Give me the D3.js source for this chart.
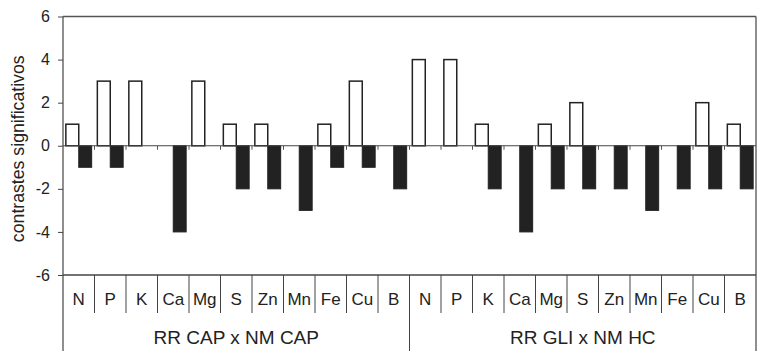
<!DOCTYPE html>
<html>
<head>
<meta charset="utf-8">
<script src="https://cdn.jsdelivr.net/npm/d3@7"></script>
<style>
  body { margin: 0; background: #fff; }
  text { font-family: "Liberation Sans", Arial, sans-serif; fill: #222; }
</style>
</head>
<body>
<div id="chart"></div>
<script>
var groups = ['RR CAP x NM CAP', 'RR GLI x NM HC'];
var nutrients = ['N', 'P', 'K', 'Ca', 'Mg', 'S', 'Zn', 'Mn', 'Fe', 'Cu', 'B'];
// positive / negative contrasts for each group
var posCAP = [1, 3, 3, 0, 3, 1, 1, 0, 1, 3, 0];
var negCAP = [-1, -1, 0, -4, 0, -2, -2, -3, -1, -1, -2];
var posGLI = [4, 4, 1, 0, 1, 2, 0, 0, 0, 2, 1];
var negGLI = [0, 0, -2, -4, -2, -2, -2, -3, -2, -2, -2];
var yTicks = [-6, -4, -2, 0, 2, 4, 6];

var width = 765, height = 351;
var plotLeft = 63, plotRight = 756, plotTop = 16.5, plotBottom = 275;

var cats = [];
groups.forEach(function(g, gi) {
  nutrients.forEach(function(n, i) {
    cats.push({
      key: gi + '-' + n, name: n, group: gi,
      pos: gi == 0 ? posCAP[i] : posGLI[i],
      neg: gi == 0 ? negCAP[i] : negGLI[i]
    });
  });
});

var svg = d3.select('#chart').append('svg').attr('width', width).attr('height', height);

var x = d3.scaleBand().domain(cats.map(d => d.key)).range([plotLeft, plotRight]);
var x1 = d3.scaleBand().domain(['pos', 'neg']).range([0, x.bandwidth()]).paddingOuter(0.22);
var y = d3.scaleLinear().domain([-6, 6]).range([plotBottom, plotTop]);

// frame: top and right
svg.append('line').attr('x1', plotLeft).attr('x2', plotRight).attr('y1', y(6)).attr('y2', y(6))
  .attr('stroke', '#555').attr('stroke-width', 1.3);
svg.append('line').attr('x1', plotRight).attr('x2', plotRight).attr('y1', y(6)).attr('y2', height)
  .attr('stroke', '#444').attr('stroke-width', 1.2);

// y axis
var yAxis = svg.append('g').attr('transform', 'translate(' + plotLeft + ',0)')
  .call(d3.axisLeft(y).tickValues(yTicks).tickSize(5).tickPadding(8).tickFormat(d => String(d)));
yAxis.select('.domain').remove();
yAxis.selectAll('line').attr('stroke', '#444');
yAxis.selectAll('text').style('font-size', '16px').style('font-family', '"Liberation Sans", Arial, sans-serif').attr('fill', '#222');
svg.append('line').attr('x1', plotLeft).attr('x2', plotLeft).attr('y1', y(6)).attr('y2', height)
  .attr('stroke', '#444').attr('stroke-width', 1.2);

svg.append('text')
  .attr('transform', 'translate(19,' + (y(0) + 3) + ') rotate(-90)')
  .attr('text-anchor', 'middle').attr('dominant-baseline', 'middle')
  .style('font-size', '17.7px')
  .text('contrastes significativos');

// bars
var bars = svg.append('g');
bars.selectAll('rect.pos').data(cats.filter(d => d.pos != 0)).enter().append('rect')
  .attr('class', 'pos')
  .attr('x', d => x(d.key) + x1('pos'))
  .attr('width', x1.bandwidth())
  .attr('y', d => y(d.pos))
  .attr('height', d => y(0) - y(d.pos))
  .attr('fill', '#fff').attr('stroke', '#222').attr('stroke-width', 1.5);
bars.selectAll('rect.neg').data(cats.filter(d => d.neg != 0)).enter().append('rect')
  .attr('class', 'neg')
  .attr('x', d => x(d.key) + x1('neg'))
  .attr('width', x1.bandwidth())
  .attr('y', y(0))
  .attr('height', d => y(d.neg) - y(0))
  .attr('fill', '#222').attr('stroke', '#222').attr('stroke-width', 1);

// zero line with small ticks
svg.append('line').attr('x1', plotLeft).attr('x2', plotRight).attr('y1', y(0)).attr('y2', y(0))
  .attr('stroke', '#444').attr('stroke-width', 1.2);
svg.selectAll('line.zt').data(cats.slice(1)).enter().append('line')
  .attr('class', 'zt')
  .attr('x1', d => x(d.key)).attr('x2', d => x(d.key))
  .attr('y1', y(0)).attr('y2', y(0) + 4)
  .attr('stroke', '#555').attr('stroke-width', 1);

// bottom axis line
svg.append('line').attr('x1', plotLeft).attr('x2', plotRight).attr('y1', plotBottom).attr('y2', plotBottom)
  .attr('stroke', '#444').attr('stroke-width', 1.3);

// category separators and labels
svg.selectAll('line.sep').data(cats.slice(1)).enter().append('line')
  .attr('class', 'sep')
  .attr('x1', d => x(d.key)).attr('x2', d => x(d.key))
  .attr('y1', plotBottom).attr('y2', d => d.name == 'N' ? height : 313)
  .attr('stroke', '#444').attr('stroke-width', 1);
svg.selectAll('text.cat').data(cats).enter().append('text')
  .attr('class', 'cat')
  .attr('x', d => x(d.key) + x.bandwidth() / 2)
  .attr('y', 300.5)
  .attr('text-anchor', 'middle').attr('dominant-baseline', 'middle')
  .style('font-size', '17px')
  .text(d => d.name);

// group labels
var gw = (plotRight - plotLeft) / groups.length;
svg.selectAll('text.grp').data(groups).enter().append('text')
  .attr('class', 'grp')
  .attr('x', (d, i) => plotLeft + gw * i + gw / 2)
  .attr('y', 338.5)
  .attr('text-anchor', 'middle').attr('dominant-baseline', 'middle')
  .style('font-size', '19px')
  .text(d => d);
</script>
</body>
</html>
